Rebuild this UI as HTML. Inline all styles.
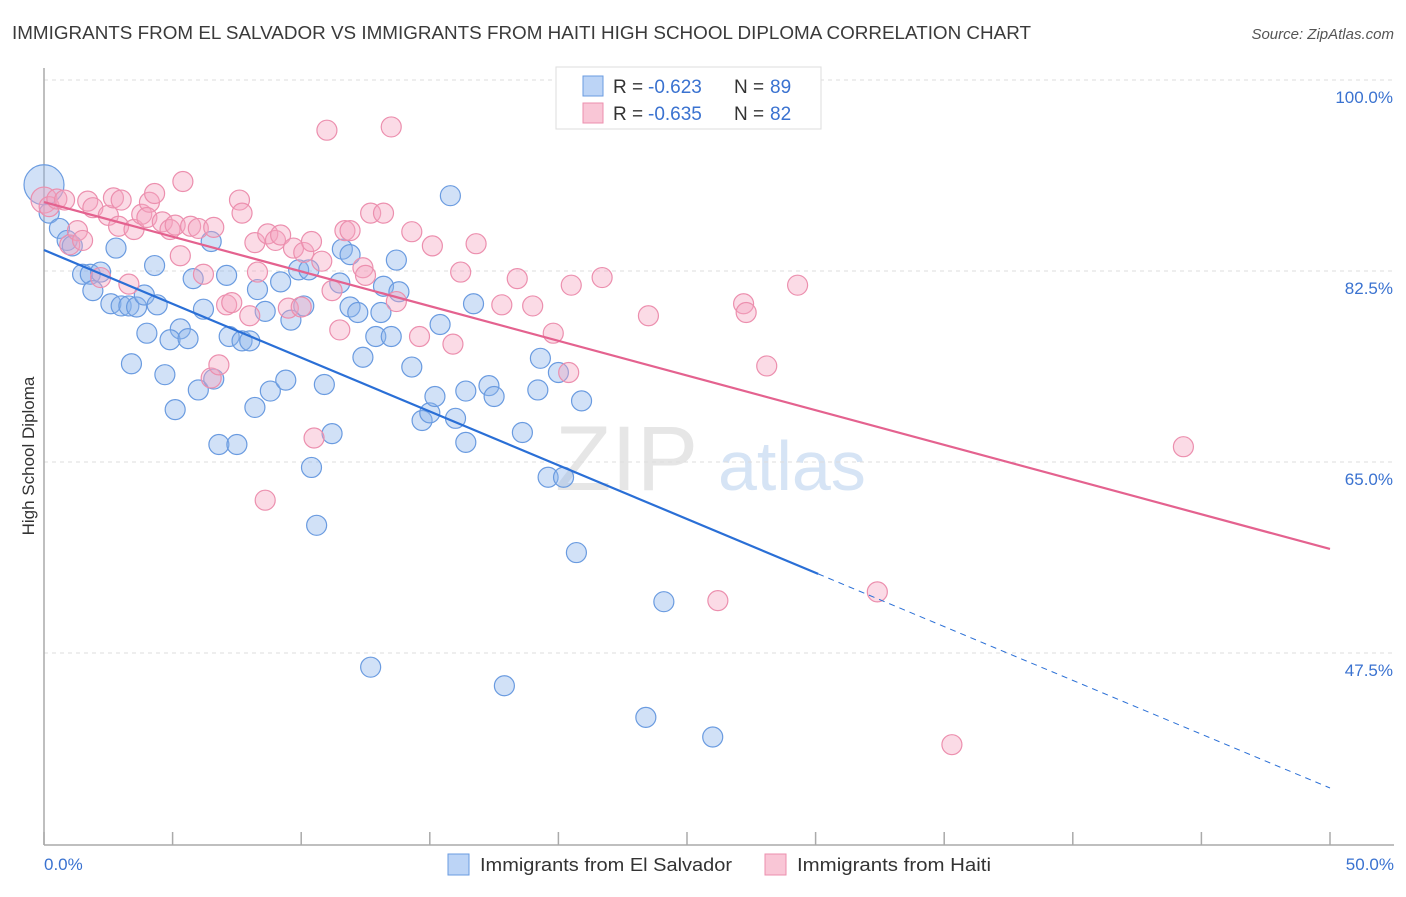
<!DOCTYPE html>
<html><head><meta charset="utf-8"><style>
body{margin:0;background:#fff;font-family:"Liberation Sans",sans-serif}
svg text{font-family:"Liberation Sans",sans-serif}
</style></head><body>
<svg id="chart" width="1406" height="892" xmlns="http://www.w3.org/2000/svg">
<text x="12" y="39" font-size="18" fill="#3a3a3a" textLength="1019" lengthAdjust="spacingAndGlyphs">IMMIGRANTS FROM EL SALVADOR VS IMMIGRANTS FROM HAITI HIGH SCHOOL DIPLOMA CORRELATION CHART</text>
<text x="1394" y="39" font-size="15" fill="#555" text-anchor="end" font-style="italic">Source: ZipAtlas.com</text>
<g><text x="555" y="490" font-size="92" fill="#e6e6e6" font-family="Liberation Serif">ZIP</text><text x="718" y="490" font-size="70" fill="#d6e4f5">atlas</text></g>
<g id="grid"></g>
<line x1="44" y1="68" x2="44" y2="845" stroke="#aaa" stroke-width="1.5"/>
<line x1="44" y1="845" x2="1394" y2="845" stroke="#aaa" stroke-width="1.5"/>
<text transform="translate(34,456) rotate(-90)" font-size="17" fill="#333" text-anchor="middle">High School Diploma</text>
<text x="44" y="870" font-size="17" fill="#3a72d0">0.0%</text>
<text x="1394" y="870" font-size="17" fill="#3a72d0" text-anchor="end">50.0%</text>
<g id="pts"></g>
<g id="lines"></g>
<g>
<rect x="556" y="67" width="265" height="62" fill="#fff" stroke="#ddd"/>
<rect x="583" y="76" width="20" height="20" fill="#bcd4f6" stroke="#6a9be0"/>
<rect x="583" y="103" width="20" height="20" fill="#f9c6d6" stroke="#ec8fae"/>
<text x="613" y="93" font-size="19" fill="#333">R =</text><text x="648" y="93" font-size="19" fill="#3a72d0">-0.623</text><text x="734" y="93" font-size="19" fill="#333">N =</text><text x="770" y="93" font-size="19" fill="#3a72d0">89</text>
<text x="613" y="120" font-size="19" fill="#333">R =</text><text x="648" y="120" font-size="19" fill="#3a72d0">-0.635</text><text x="734" y="120" font-size="19" fill="#333">N =</text><text x="770" y="120" font-size="19" fill="#3a72d0">82</text>
</g>
<g>
<rect x="448" y="854" width="21" height="21" fill="#bcd4f6" stroke="#6a9be0"/>
<text x="480" y="871" font-size="18" fill="#333" textLength="252" lengthAdjust="spacingAndGlyphs">Immigrants from El Salvador</text>
<rect x="765" y="854" width="21" height="21" fill="#f9c6d6" stroke="#ec8fae"/>
<text x="797" y="871" font-size="18" fill="#333" textLength="194" lengthAdjust="spacingAndGlyphs">Immigrants from Haiti</text>
</g>
</svg>
<script>
const yTicks=[100,82.5,65,47.5];
const yTickLabels=["100.0%","82.5%","65.0%","47.5%"];
const xTicks=[0,5,10,15,20,25,30,35,40,45,50];
const blueX=[0,0.2,0.6,0.9,1.1,1.5,1.8,2.2,1.9,2.8,2.6,3.0,3.3,3.6,3.9,4.3,4.4,3.4,4.0,4.7,5.3,4.9,5.6,5.1,5.8,6.0,6.2,6.5,6.6,6.8,7.5,7.1,7.2,7.7,8.0,8.2,8.3,8.6,8.8,9.2,9.4,9.6,9.9,10.1,10.3,10.4,10.6,10.9,11.2,11.5,11.6,11.9,11.9,12.2,12.4,12.7,12.9,13.1,13.2,13.5,13.7,13.8,14.3,14.7,15.0,15.2,15.4,15.8,16.0,16.4,16.4,16.7,17.3,17.5,17.9,18.6,19.2,19.3,19.6,20.0,20.2,20.7,20.9,23.4,24.1,26.0];
const blueY=[90.4,87.8,86.4,85.3,84.8,82.2,82.2,82.4,80.7,84.6,79.5,79.3,79.3,79.2,80.3,83.0,79.4,74.0,76.8,73.0,77.2,76.2,76.3,69.8,81.8,71.6,79.0,85.2,72.6,66.6,66.6,82.1,76.5,76.1,76.1,70.0,80.8,78.8,71.5,81.5,72.5,78.0,82.6,79.3,82.6,64.5,59.2,72.1,67.6,81.4,84.5,84.0,79.2,78.7,74.6,46.2,76.5,78.7,81.1,76.5,83.5,80.6,73.7,68.8,69.5,71.0,77.6,89.4,69.0,66.8,71.5,79.5,72.0,71.0,44.5,67.7,71.6,74.5,63.6,73.2,63.6,56.7,70.6,41.6,52.2,39.8];
const pinkX=[0,0.2,0.5,0.8,1.0,1.3,1.5,1.7,1.9,2.2,2.5,2.7,2.9,3.0,3.3,3.5,3.8,4.1,4.3,4.0,4.6,4.9,5.1,5.3,5.4,5.7,6.0,6.2,6.5,6.6,6.8,7.1,7.3,7.6,7.7,8.0,8.2,8.3,8.6,8.7,9.0,9.2,9.5,9.7,10.0,10.1,10.4,10.5,10.8,11.0,11.2,11.5,11.7,11.9,12.4,12.5,12.7,13.2,13.5,13.7,14.3,14.6,15.1,15.9,16.2,16.8,17.8,18.4,19.0,19.8,20.4,20.5,21.7,23.5,26.2,27.2,27.3,28.1,29.3,32.4,35.3,44.3];
const pinkY=[89,88.4,89.1,89,84.9,86.2,85.3,88.9,88.3,81.9,87.6,89.2,86.6,89,81.3,86.3,87.7,88.8,89.6,87.4,87.0,86.3,86.7,83.9,90.7,86.6,86.4,82.2,72.7,86.5,73.9,79.4,79.6,89,87.8,78.4,85.1,82.4,61.5,85.9,85.3,85.8,79.1,84.6,79.2,84.2,85.2,67.2,83.4,95.4,80.7,77.1,86.2,86.2,82.8,82.1,87.8,87.8,95.7,79.7,86.1,76.5,84.8,75.8,82.4,85.0,79.4,81.8,79.3,76.8,73.2,81.2,81.9,78.4,52.3,79.5,78.7,73.8,81.2,53.1,39.1,66.4];
const blueTrend=[84.42,35.13];
const pinkTrend=[88.82,57.03];
const NS="http://www.w3.org/2000/svg";
const sx=v=>44+v*25.72;
const sy=v=>80+(100-v)*10.914;
function mk(t,a,p){const e=document.createElementNS(NS,t);for(const k in a)e.setAttribute(k,a[k]);p.appendChild(e);return e;}
const grid=document.getElementById('grid');
yTicks.forEach((t,i)=>{
 const l=mk('line',{x1:44,x2:1394,y1:sy(t),y2:sy(t),stroke:'#ddd','stroke-dasharray':'4,4'},grid);
 
 
 const tx=mk('text',{x:1393,y:sy(t)+23,'font-size':17,fill:'#3a72d0','text-anchor':'end'},grid);
 tx.textContent=yTickLabels[i];
 
 
});
xTicks.forEach(t=>{
 const l=mk('line',{x1:sx(t),x2:sx(t),y1:832,y2:845,stroke:'#aaa','stroke-width':1.5},grid);
 
 
});
const pts=document.getElementById('pts');
blueX.forEach((x,i)=>{
 const c=mk('circle',{cx:sx(x),cy:sy(blueY[i]),r:i===0?20:10,fill:'rgba(140,180,235,0.4)',stroke:'#6a9be0','stroke-width':1.2},pts);
 
 
});
pinkX.forEach((x,i)=>{
 const c=mk('circle',{cx:sx(x),cy:sy(pinkY[i]),r:i===0?13:10,fill:'rgba(245,165,192,0.4)',stroke:'#ec8fae','stroke-width':1.2},pts);
 
 
});
const lines=document.getElementById('lines');
const bAt=x=>blueTrend[0]+(blueTrend[1]-blueTrend[0])*x/50;
let l1=mk('line',{x1:sx(0),y1:sy(bAt(0)),x2:sx(30.1),y2:sy(bAt(30.1)),stroke:'#2a6fd6','stroke-width':2.2},lines);


let l2=mk('line',{x1:sx(30.1),y1:sy(bAt(30.1)),x2:sx(50),y2:sy(bAt(50)),stroke:'#2a6fd6','stroke-width':1,'stroke-dasharray':'6,5'},lines);


let l3=mk('line',{x1:sx(0),y1:sy(pinkTrend[0]),x2:sx(50),y2:sy(pinkTrend[1]),stroke:'#e4628f','stroke-width':2.2},lines);


</script>
</body></html>
